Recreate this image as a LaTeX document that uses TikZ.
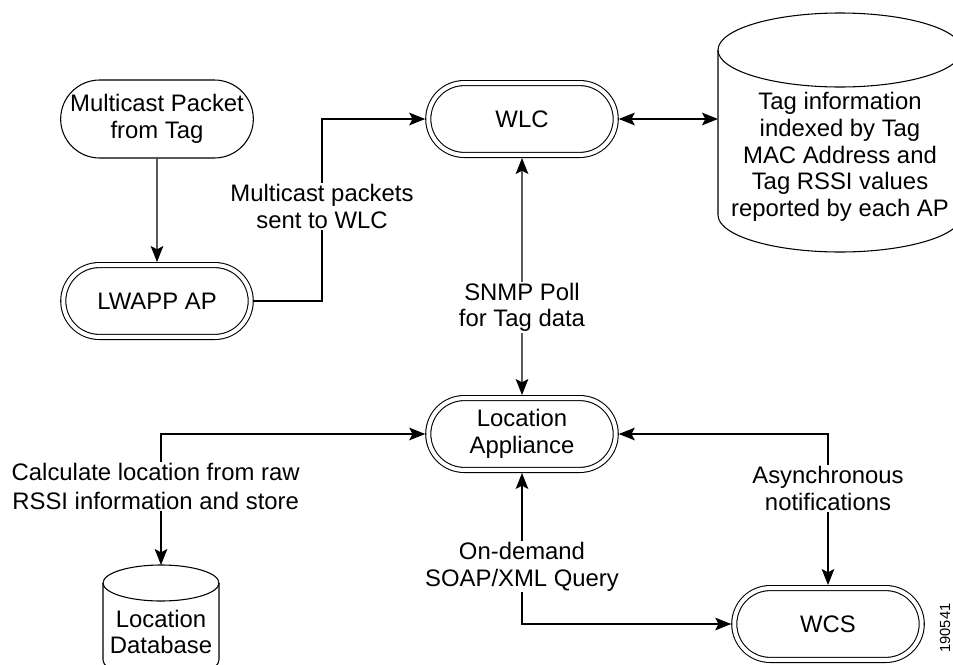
\documentclass[tikz,border=0pt]{standalone}
\usepackage{fontspec}
\setmainfont{Liberation Sans}
\usetikzlibrary{arrows.meta,shapes.misc}

\begin{document}
\begin{tikzpicture}[x=0.75pt,y=-0.75pt,
		>={Stealth[length=12pt,width=9.5pt,inset=2.5pt]},
		line width=0.8pt,
		font=\fontsize{17.9pt}{20pt}\selectfont,
		pill/.style={rounded rectangle, draw, align=center, minimum width=148.5pt, minimum height=58.5pt, inner sep=2pt, outer sep=0.4pt},
		dpill/.style={pill, double, double distance=3pt, minimum width=144.6pt, minimum height=53.9pt, outer sep=2.3pt},
		lbl/.style={fill=white, align=center, inner sep=1pt}]
	\useasboundingbox (0,0) rectangle (953,664);
	% the boxes
	\node[pill] (tagpkt) at (157,119) {Multicast Packet\\from Tag};
	\node[dpill] (lwapp) at (157,301) {LWAPP AP};
	\node[dpill] (wlc) at (522,119) {WLC};
	\node[dpill] (locapp) at (522,434) {Location\\Appliance};
	\node[dpill] (wcs) at (828,624) {WCS};
	% the stores
	\draw (718,50) -- (718,215) arc[start angle=180, end angle=0, x radius=122, y radius=37] -- (962,50);
	\draw (840,50) ellipse [x radius=122, y radius=37];
	\coordinate (taginfoleft) at (718,119);
	\node[align=center] (taginfo) at (840,157) {Tag information\\indexed by Tag\\MAC Address and\\Tag RSSI values\\reported by each AP};
	\draw (103,583) -- (103,660) arc[start angle=180, end angle=0, x radius=58, y radius=18] -- (219,583);
	\draw (161,583) ellipse [x radius=58, y radius=18];
	\coordinate (locdbtop) at (161,565);
	\node[align=center] (locdb) at (161,632) {Location\\Database};
	\node[rotate=90, font=\fontsize{11pt}{13pt}\selectfont] (figno) at (945,628) {190541};
	% the arrows
	\draw[->] (tagpkt) -- (lwapp);
	\draw[->] (lwapp.east) -| node[lbl, pos=0.76] {Multicast packets\\sent to WLC} (322,119) -- (wlc.west);
	\draw[<->] (wlc.east) -- (taginfoleft);
	\draw[<->] (wlc) -- node[lbl, pos=0.63] {SNMP Poll\\for Tag data} (locapp);
	\draw[<->] (locapp.west) -| node[lbl, pos=0.7, xshift=-4pt, font=\fontsize{17.9pt}{21.5pt}\selectfont] {Calculate location from raw\\RSSI information and store} (locdbtop);
	\draw[<->] (locapp.east) -| node[lbl, pos=0.68] {Asynchronous\\notifications} (wcs.north);
	\draw[<->] (locapp.south) |- node[lbl, pos=0.31] {On-demand\\SOAP/XML Query} (wcs.west);
\end{tikzpicture}
\end{document}
